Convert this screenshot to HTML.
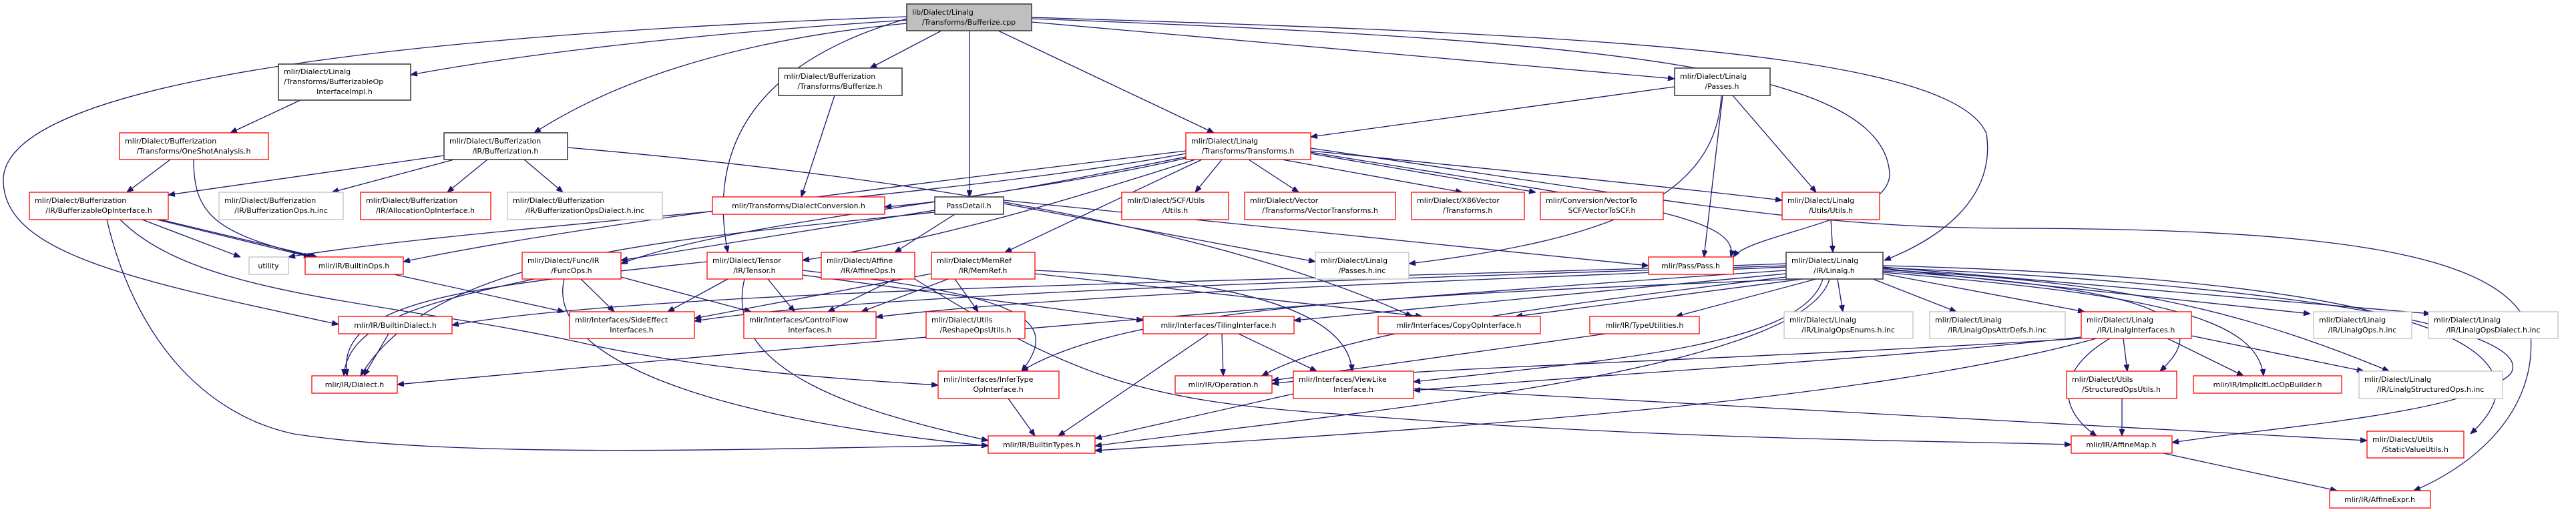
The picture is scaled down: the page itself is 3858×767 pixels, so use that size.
<!DOCTYPE html>
<html><head><meta charset="utf-8"><style>
html,body{margin:0;padding:0;background:#fff;width:3858px;height:767px;overflow:hidden}
svg text{font-family:"DejaVu Sans","Liberation Sans",sans-serif;font-size:11px;fill:#000}
.e{fill:none;stroke:#191970;stroke-width:1.3}
.k{fill:#fff;stroke:#404040;stroke-width:1.6}
.r{fill:#fff;stroke:#ff0000;stroke-width:1.3}
.g{fill:#fff;stroke:#bfbfbf;stroke-width:1.3}
.root{fill:#bfbfbf;stroke:#404040;stroke-width:1.6}
</style></head><body>
<svg width="3858" height="767" viewBox="0 0 3858 767" xmlns="http://www.w3.org/2000/svg">
<defs><marker id="a" viewBox="0 0 10 8" refX="10" refY="4" markerWidth="10" markerHeight="8" markerUnits="userSpaceOnUse" orient="auto"><path d="M0,0 L10,4 L0,8 z" fill="#191970" stroke="#191970"/></marker></defs>
<g marker-end="url(#a)">
<!-- root -->
<path class="e" d="M1358,30 Q900,60 615,112"/>
<path class="e" d="M1358,35 Q1000,70 800,199"/>
<path class="e" d="M1410,46 L1303,102"/>
<path class="e" d="M1452,46 L1452,295"/>
<path class="e" d="M1495,46 L1818,199"/>
<path class="e" d="M1545,33 L2508,118"/>
<path class="e" d="M1358,28 Q1040,120 1090,378"/>
<path class="e" d="M1358,25 C400,60 5,150 5,270 C5,380 200,420 507,486"/>
<path class="e" d="M1545,26 C2300,50 2920,70 2975,200 C2990,300 2900,360 2822,390"/>
<path class="e" d="M1545,28 C2400,60 2820,100 2830,260 C2832,330 2620,350 2596,385"/>
<!-- level 2 -->
<path class="e" d="M450,150 L345,199"/>
<path class="e" d="M255,239 L190,288"/>
<path class="e" d="M290,239 C290,320 320,350 470,385"/>
<path class="e" d="M665,233 L252,292"/>
<path class="e" d="M680,239 L497,288"/>
<path class="e" d="M730,239 L670,288"/>
<path class="e" d="M785,239 L843,288"/>
<path class="e" d="M850,221 C1300,260 1800,330 2115,474"/>
<path class="e" d="M160,329 C200,500 300,620 440,650 C700,690 1200,670 1480,667"/>
<path class="e" d="M180,329 C300,450 600,450 900,520 C1100,560 1300,570 1405,577"/>
<path class="e" d="M213,329 L360,385"/>
<path class="e" d="M235,329 L465,385"/>
<path class="e" d="M240,329 L475,385"/>
<path class="e" d="M1250,143 L1200,295"/>
<!-- transforms -->
<path class="e" d="M1776,226 C1500,260 900,330 604,392"/>
<path class="e" d="M1776,230 C1400,300 700,340 432,385"/>
<path class="e" d="M1776,235 C1600,270 1450,300 1325,310"/>
<path class="e" d="M1790,239 C1600,300 1400,360 1202,390"/>
<path class="e" d="M1800,239 L1505,378"/>
<path class="e" d="M1776,237 C1500,300 1100,330 930,395"/>
<path class="e" d="M1830,239 L1790,288"/>
<path class="e" d="M1870,239 L1945,288"/>
<path class="e" d="M1920,239 L2190,288"/>
<path class="e" d="M1963,230 L2300,288"/>
<path class="e" d="M1963,226 C2300,260 2500,280 2669,300"/>
<path class="e" d="M1963,222 C2500,300 2700,340 3000,342 C3500,342 3760,380 3790,500 C3800,620 3700,700 3615,735"/>
<path class="e" d="M1963,228 C2400,300 2610,320 2592,385"/>
<!-- passdetail -->
<path class="e" d="M1400,315 L930,390"/>
<path class="e" d="M1430,321 L1340,378"/>
<path class="e" d="M1503,305 L1970,392"/>
<path class="e" d="M1503,300 L2469,398"/>
<path class="e" d="M1400,318 C1000,360 650,380 540,563"/>
<!-- passes -->
<path class="e" d="M2508,130 L1963,205"/>
<path class="e" d="M2578,143 C2570,300 2400,360 2110,395"/>
<path class="e" d="M2580,143 L2552,385"/>
<path class="e" d="M2595,143 L2720,288"/>
<path class="e" d="M2742,329 L2745,378"/>
<!-- func/tensor/affine/memref -->
<path class="e" d="M800,418 C650,450 520,480 515,563"/>
<path class="e" d="M870,418 L920,467"/>
<path class="e" d="M930,415 L1125,467"/>
<path class="e" d="M845,418 C820,520 1000,620 1480,668"/>
<path class="e" d="M1090,418 L1000,467"/>
<path class="e" d="M1150,418 L1190,467"/>
<path class="e" d="M1059,392 C700,430 500,450 520,563"/>
<path class="e" d="M1115,418 C1080,560 1300,620 1480,660"/>
<path class="e" d="M1202,412 L1712,480"/>
<path class="e" d="M1202,405 C1500,440 1600,470 1530,556"/>
<path class="e" d="M1340,418 L1240,467"/>
<path class="e" d="M1370,418 C1600,560 1700,600 2000,620 C2500,660 2900,660 3102,666"/>
<path class="e" d="M1430,418 L1465,467"/>
<path class="e" d="M1395,410 L1040,477"/>
<path class="e" d="M1420,418 L1290,467"/>
<path class="e" d="M1550,410 L2130,474"/>
<path class="e" d="M1550,405 C1900,420 2020,480 2025,556"/>
<!-- interfaces -->
<path class="e" d="M1810,500 L1585,653"/>
<path class="e" d="M1830,500 L1832,563"/>
<path class="e" d="M1855,500 L1972,556"/>
<path class="e" d="M1510,597 L1550,653"/>
<path class="e" d="M1937,590 L1640,657"/>
<path class="e" d="M2117,582 L3545,660"/>
<path class="e" d="M2405,500 L1905,570"/>
<path class="e" d="M590,411 L845,467"/>
<path class="e" d="M582,500 L545,563"/>
<!-- linalg.h -->
<path class="e" d="M2675,395 C2000,420 1000,430 677,487"/>
<path class="e" d="M2675,398 C2000,420 1300,440 1040,481"/>
<path class="e" d="M2675,400 C2200,420 1600,440 1312,475"/>
<path class="e" d="M2675,405 C2000,450 1200,520 595,576"/>
<path class="e" d="M2675,410 L1938,480"/>
<path class="e" d="M2700,418 L2270,474"/>
<path class="e" d="M2720,418 L2510,474"/>
<path class="e" d="M2690,418 C2200,440 1700,450 1530,556"/>
<path class="e" d="M2675,415 C2300,460 2000,500 1890,563"/>
<path class="e" d="M2730,418 C2700,520 2400,540 2117,572"/>
<path class="e" d="M2740,418 C2700,560 2000,620 1640,668"/>
<path class="e" d="M2752,418 L2760,467"/>
<path class="e" d="M2805,418 L2930,467"/>
<path class="e" d="M2820,410 L3122,467"/>
<path class="e" d="M2820,402 L3460,470"/>
<path class="e" d="M2820,400 L3640,470"/>
<path class="e" d="M2820,404 C3100,420 3300,440 3578,556"/>
<path class="e" d="M2820,406 C3200,430 3330,470 3235,556"/>
<path class="e" d="M2820,408 C3200,440 3380,470 3390,563"/>
<path class="e" d="M2820,398 C3700,420 3820,540 3700,650"/>
<path class="e" d="M2820,401 C3500,430 3800,500 3760,560 C3700,620 3400,640 3253,663"/>
<!-- linalg interfaces -->
<path class="e" d="M3117,505 C2800,540 2400,560 2117,585"/>
<path class="e" d="M3117,507 C2600,540 2100,550 1905,575"/>
<path class="e" d="M3140,507 C2800,600 2200,640 1640,675"/>
<path class="e" d="M3180,507 L3186,556"/>
<path class="e" d="M3246,507 L3360,563"/>
<path class="e" d="M3282,503 L3540,556"/>
<path class="e" d="M3160,507 C3070,560 3090,620 3140,653"/>
<path class="e" d="M3178,597 L3178,653"/>
<path class="e" d="M3240,679 L3500,735"/>
</g>
<!-- nodes -->
<g>
<rect class="root" x="1358" y="6" width="187" height="40"/><text x="1366" y="22">lib/Dialect/Linalg</text><text x="1451" y="37" text-anchor="middle">/Transforms/Bufferize.cpp</text>
<rect class="k" x="417" y="96" width="198" height="54"/><text x="425" y="111">mlir/Dialect/Linalg</text><text x="425" y="126">/Transforms/BufferizableOp</text><text x="516" y="141" text-anchor="middle">InterfaceImpl.h</text>
<rect class="k" x="1166" y="102" width="185" height="41"/><text x="1174" y="118">mlir/Dialect/Bufferization</text><text x="1258" y="133" text-anchor="middle">/Transforms/Bufferize.h</text>
<rect class="k" x="2508" y="102" width="143" height="41"/><text x="2516" y="118">mlir/Dialect/Linalg</text><text x="2579" y="133" text-anchor="middle">/Passes.h</text>
<rect class="r" x="179" y="199" width="223" height="40"/><text x="187" y="215">mlir/Dialect/Bufferization</text><text x="290" y="230" text-anchor="middle">/Transforms/OneShotAnalysis.h</text>
<rect class="k" x="665" y="199" width="185" height="40"/><text x="673" y="215">mlir/Dialect/Bufferization</text><text x="757" y="230" text-anchor="middle">/IR/Bufferization.h</text>
<rect class="r" x="1776" y="199" width="187" height="40"/><text x="1784" y="215">mlir/Dialect/Linalg</text><text x="1869" y="230" text-anchor="middle">/Transforms/Transforms.h</text>
<rect class="r" x="44" y="288" width="208" height="41"/><text x="52" y="304">mlir/Dialect/Bufferization</text><text x="148" y="319" text-anchor="middle">/IR/BufferizableOpInterface.h</text>
<rect class="g" x="328" y="288" width="186" height="41"/><text x="336" y="304">mlir/Dialect/Bufferization</text><text x="421" y="319" text-anchor="middle">/IR/BufferizationOps.h.inc</text>
<rect class="r" x="540" y="288" width="195" height="41"/><text x="548" y="304">mlir/Dialect/Bufferization</text><text x="637" y="319" text-anchor="middle">/IR/AllocationOpInterface.h</text>
<rect class="g" x="760" y="288" width="232" height="41"/><text x="768" y="304">mlir/Dialect/Bufferization</text><text x="876" y="319" text-anchor="middle">/IR/BufferizationOpsDialect.h.inc</text>
<rect class="r" x="1067" y="295" width="258" height="26"/><text x="1196" y="312" text-anchor="middle">mlir/Transforms/DialectConversion.h</text>
<rect class="r" x="1680" y="288" width="160" height="41"/><text x="1688" y="304">mlir/Dialect/SCF/Utils</text><text x="1760" y="319" text-anchor="middle">/Utils.h</text>
<rect class="r" x="1864" y="288" width="226" height="41"/><text x="1872" y="304">mlir/Dialect/Vector</text><text x="1977" y="319" text-anchor="middle">/Transforms/VectorTransforms.h</text>
<rect class="r" x="2114" y="288" width="169" height="41"/><text x="2122" y="304">mlir/Dialect/X86Vector</text><text x="2198" y="319" text-anchor="middle">/Transforms.h</text>
<rect class="r" x="2307" y="288" width="184" height="41"/><text x="2315" y="304">mlir/Conversion/VectorTo</text><text x="2399" y="319" text-anchor="middle">SCF/VectorToSCF.h</text>
<rect class="r" x="2669" y="288" width="146" height="41"/><text x="2677" y="304">mlir/Dialect/Linalg</text><text x="2742" y="319" text-anchor="middle">/Utils/Utils.h</text>
<rect class="k" x="1400" y="295" width="103" height="26"/><text x="1451" y="312" text-anchor="middle">PassDetail.h</text>
<rect class="g" x="373" y="385" width="59" height="26"/><text x="402" y="402" text-anchor="middle">utility</text>
<rect class="r" x="457" y="385" width="147" height="26"/><text x="530" y="402" text-anchor="middle">mlir/IR/BuiltinOps.h</text>
<rect class="r" x="782" y="378" width="148" height="40"/><text x="790" y="394">mlir/Dialect/Func/IR</text><text x="856" y="409" text-anchor="middle">/FuncOps.h</text>
<rect class="r" x="1059" y="378" width="143" height="40"/><text x="1067" y="394">mlir/Dialect/Tensor</text><text x="1130" y="409" text-anchor="middle">/IR/Tensor.h</text>
<rect class="r" x="1230" y="378" width="140" height="40"/><text x="1238" y="394">mlir/Dialect/Affine</text><text x="1300" y="409" text-anchor="middle">/IR/AffineOps.h</text>
<rect class="r" x="1395" y="378" width="155" height="40"/><text x="1403" y="394">mlir/Dialect/MemRef</text><text x="1472" y="409" text-anchor="middle">/IR/MemRef.h</text>
<rect class="g" x="1970" y="378" width="140" height="40"/><text x="1978" y="394">mlir/Dialect/Linalg</text><text x="2040" y="409" text-anchor="middle">/Passes.h.inc</text>
<rect class="r" x="2469" y="385" width="127" height="26"/><text x="2532" y="402" text-anchor="middle">mlir/Pass/Pass.h</text>
<rect class="k" x="2675" y="378" width="145" height="40"/><text x="2683" y="394">mlir/Dialect/Linalg</text><text x="2747" y="409" text-anchor="middle">/IR/Linalg.h</text>
<rect class="r" x="507" y="474" width="170" height="26"/><text x="592" y="491" text-anchor="middle">mlir/IR/BuiltinDialect.h</text>
<rect class="r" x="853" y="467" width="187" height="40"/><text x="861" y="483">mlir/Interfaces/SideEffect</text><text x="946" y="498" text-anchor="middle">Interfaces.h</text>
<rect class="r" x="1114" y="467" width="198" height="40"/><text x="1122" y="483">mlir/Interfaces/ControlFlow</text><text x="1213" y="498" text-anchor="middle">Interfaces.h</text>
<rect class="r" x="1387" y="467" width="148" height="40"/><text x="1395" y="483">mlir/Dialect/Utils</text><text x="1461" y="498" text-anchor="middle">/ReshapeOpsUtils.h</text>
<rect class="r" x="1712" y="474" width="226" height="26"/><text x="1825" y="491" text-anchor="middle">mlir/Interfaces/TilingInterface.h</text>
<rect class="r" x="2064" y="474" width="243" height="26"/><text x="2185" y="491" text-anchor="middle">mlir/Interfaces/CopyOpInterface.h</text>
<rect class="r" x="2381" y="474" width="164" height="26"/><text x="2463" y="491" text-anchor="middle">mlir/IR/TypeUtilities.h</text>
<rect class="g" x="2672" y="467" width="193" height="40"/><text x="2680" y="483">mlir/Dialect/Linalg</text><text x="2768" y="498" text-anchor="middle">/IR/LinalgOpsEnums.h.inc</text>
<rect class="g" x="2890" y="467" width="203" height="40"/><text x="2898" y="483">mlir/Dialect/Linalg</text><text x="2991" y="498" text-anchor="middle">/IR/LinalgOpsAttrDefs.h.inc</text>
<rect class="r" x="3117" y="467" width="165" height="40"/><text x="3125" y="483">mlir/Dialect/Linalg</text><text x="3199" y="498" text-anchor="middle">/IR/LinalgInterfaces.h</text>
<rect class="g" x="3465" y="467" width="147" height="40"/><text x="3473" y="483">mlir/Dialect/Linalg</text><text x="3538" y="498" text-anchor="middle">/IR/LinalgOps.h.inc</text>
<rect class="g" x="3637" y="467" width="194" height="40"/><text x="3645" y="483">mlir/Dialect/Linalg</text><text x="3734" y="498" text-anchor="middle">/IR/LinalgOpsDialect.h.inc</text>
<rect class="r" x="467" y="563" width="128" height="26"/><text x="531" y="580" text-anchor="middle">mlir/IR/Dialect.h</text>
<rect class="r" x="1405" y="556" width="181" height="41"/><text x="1413" y="572">mlir/Interfaces/InferType</text><text x="1495" y="587" text-anchor="middle">OpInterface.h</text>
<rect class="r" x="1760" y="563" width="145" height="26"/><text x="1832" y="580" text-anchor="middle">mlir/IR/Operation.h</text>
<rect class="r" x="1937" y="556" width="180" height="41"/><text x="1945" y="572">mlir/Interfaces/ViewLike</text><text x="2027" y="587" text-anchor="middle">Interface.h</text>
<rect class="r" x="3095" y="556" width="165" height="41"/><text x="3103" y="572">mlir/Dialect/Utils</text><text x="3177" y="587" text-anchor="middle">/StructuredOpsUtils.h</text>
<rect class="r" x="3285" y="563" width="222" height="26"/><text x="3396" y="580" text-anchor="middle">mlir/IR/ImplicitLocOpBuilder.h</text>
<rect class="g" x="3533" y="556" width="215" height="41"/><text x="3541" y="572">mlir/Dialect/Linalg</text><text x="3640" y="587" text-anchor="middle">/IR/LinalgStructuredOps.h.inc</text>
<rect class="r" x="1480" y="653" width="160" height="26"/><text x="1560" y="670" text-anchor="middle">mlir/IR/BuiltinTypes.h</text>
<rect class="r" x="3102" y="653" width="151" height="26"/><text x="3177" y="670" text-anchor="middle">mlir/IR/AffineMap.h</text>
<rect class="r" x="3545" y="646" width="145" height="40"/><text x="3553" y="662">mlir/Dialect/Utils</text><text x="3617" y="677" text-anchor="middle">/StaticValueUtils.h</text>
<rect class="r" x="3489" y="735" width="151" height="26"/><text x="3564" y="752" text-anchor="middle">mlir/IR/AffineExpr.h</text>
</g>
</svg>
</body></html>
